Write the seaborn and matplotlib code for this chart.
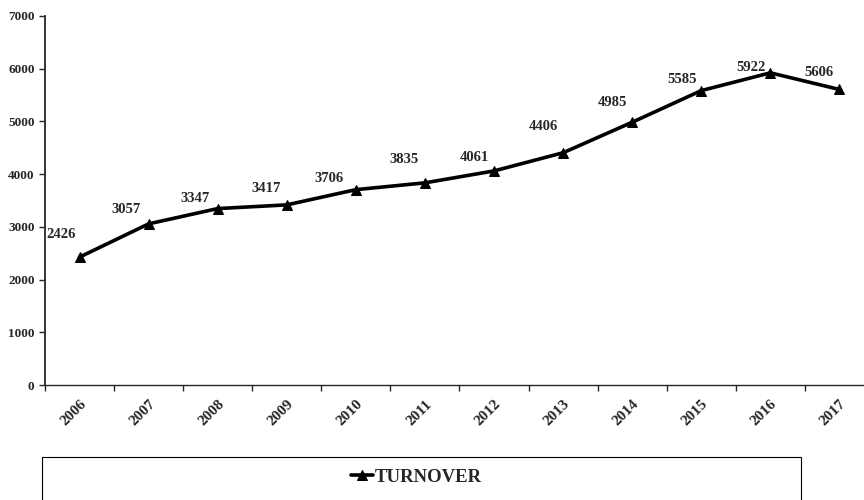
import pandas as pd
import seaborn as sns
import matplotlib.pyplot as plt
from matplotlib.patches import Rectangle

sns.set_style("ticks")
plt.rcParams['font.family'] = ['Liberation Serif', 'DejaVu Serif']

# Data
years = ['2006', '2007', '2008', '2009', '2010', '2011',
         '2012', '2013', '2014', '2015', '2016', '2017']
turnover = [2426, 3057, 3347, 3417, 3706, 3835, 4061, 4406, 4985, 5585, 5922, 5606]

# label offsets (points) relative to each marker
label_dx = [-13, -16, -16, -15, -19, -15, -14, -14, -14, -14, -14, -15]
label_dy = [16, 10, 7, 12, 8, 17, 10, 19, 14, 8, 4, 12]

df = pd.DataFrame({'year': years, 'TURNOVER': turnover})

fig = plt.figure(figsize=(8.64, 5.0), dpi=100)
ax = fig.add_axes([45 / 864, 0.23, 829 / 864, 0.738])

sns.lineplot(data=df, x='year', y='TURNOVER', ax=ax, color='black',
             linewidth=2.6, marker='^', markersize=7, markeredgecolor='black',
             label='TURNOVER', legend=False, sort=False)

for i, v in enumerate(turnover):
    ax.annotate(str(v), (i, v), xytext=(label_dx[i], label_dy[i]),
                textcoords='offset points', ha='center', va='center',
                fontsize=10.5, fontweight='bold')

ax.set_xlim(-0.5, len(years) - 0.5)
ax.set_ylim(0, 7000)
ax.set_yticks(range(0, 7001, 1000))
ax.set_xlabel('')
ax.set_ylabel('')

# category labels centred, tick marks between categories
ax.set_xticks(range(len(years)))
ax.set_xticklabels(years)
ax.set_xticks([i - 0.5 for i in range(len(years) + 1)], minor=True)
ax.tick_params(axis='x', which='major', length=0, pad=9, labelsize=11)
ax.tick_params(axis='x', which='minor', length=4, width=1)
ax.tick_params(axis='y', labelsize=9.5, length=4, width=1)
for lab in ax.get_yticklabels():
    lab.set_fontweight('bold')
for lab in ax.get_xticklabels():
    lab.set_fontweight('bold')
    lab.set_rotation(45)
    lab.set_ha('right')
    lab.set_va('top')
    lab.set_rotation_mode('anchor')
sns.despine(ax=ax)
ax.spines['left'].set_linewidth(1.3)
ax.spines['bottom'].set_linewidth(1.0)

# legend box under the chart
fig.patches.append(Rectangle((42 / 864, -0.02), 759 / 864, 0.106,
                             transform=fig.transFigure, fill=False,
                             edgecolor='black', linewidth=0.8))
handles, labels = ax.get_legend_handles_labels()
fig.legend(handles, labels, loc='center', bbox_to_anchor=(0.482, 0.046),
           frameon=False, handlelength=1.2, handletextpad=0.1,
           prop={'weight': 'bold', 'size': 13.5})

plt.savefig('out.png', dpi=100)
